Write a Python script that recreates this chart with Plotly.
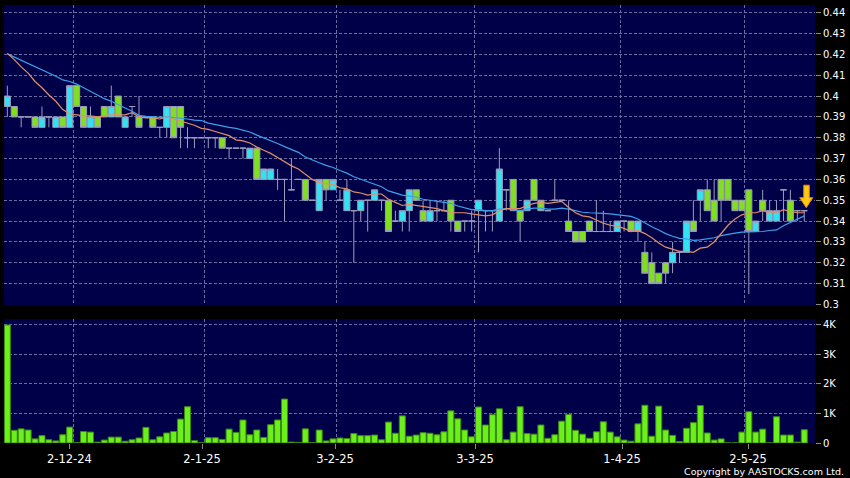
import plotly.graph_objects as go
import pandas as pd

# ---- daily data (one entry per trading session) ----
opens = [0.395, 0.395, 0.39, 0.39, 0.39, 0.385, 0.39, 0.385, 0.39, 0.385,
         0.405, 0.395, 0.385, 0.39, 0.395, 0.39, 0.40, 0.385, 0.395, 0.39,
         0.39, 0.39, 0.385, 0.385, 0.395, 0.395, 0.38, 0.38, 0.38, 0.38,
         0.38, 0.38, 0.375, 0.375, 0.375, 0.37, 0.375, 0.36, 0.36, 0.36,
         0.36, 0.355, 0.36, 0.36, 0.35, 0.345, 0.36, 0.355, 0.35, 0.345,
         0.345, 0.345, 0.35, 0.35, 0.35, 0.35, 0.34, 0.34, 0.345, 0.355,
         0.345, 0.34, 0.345, 0.345, 0.35, 0.34, 0.34, 0.34, 0.345, 0.345,
         0.345, 0.34, 0.355, 0.36, 0.345, 0.345, 0.36, 0.35, 0.345, 0.35,
         0.35, 0.34, 0.335, 0.335, 0.34, 0.335, 0.335, 0.335, 0.335, 0.34,
         0.34, 0.335, 0.325, 0.32, 0.315, 0.32, 0.32, 0.325, 0.325, 0.34,
         0.35, 0.355, 0.35, 0.36, 0.36, 0.35, 0.35, 0.355, 0.335, 0.35,
         0.34, 0.34, 0.355, 0.35, 0.345, 0.345]
highs = [0.405, 0.395, 0.39, 0.39, 0.39, 0.395, 0.39, 0.39, 0.39, 0.405,
         0.405, 0.395, 0.395, 0.39, 0.395, 0.405, 0.40, 0.39, 0.395, 0.40,
         0.39, 0.39, 0.385, 0.395, 0.395, 0.395, 0.385, 0.38, 0.38, 0.38,
         0.38, 0.38, 0.375, 0.375, 0.375, 0.375, 0.375, 0.365, 0.365, 0.365,
         0.36, 0.37, 0.36, 0.36, 0.35, 0.36, 0.36, 0.36, 0.355, 0.36,
         0.345, 0.35, 0.35, 0.355, 0.35, 0.35, 0.345, 0.345, 0.355, 0.355,
         0.35, 0.35, 0.35, 0.35, 0.35, 0.34, 0.34, 0.345, 0.35, 0.345,
         0.345, 0.375, 0.355, 0.36, 0.345, 0.35, 0.36, 0.35, 0.345, 0.36,
         0.35, 0.35, 0.335, 0.335, 0.34, 0.35, 0.345, 0.34, 0.34, 0.34,
         0.34, 0.34, 0.33, 0.325, 0.315, 0.32, 0.33, 0.325, 0.34, 0.35,
         0.355, 0.36, 0.36, 0.36, 0.36, 0.35, 0.35, 0.355, 0.34, 0.355,
         0.35, 0.35, 0.355, 0.355, 0.345, 0.345]
lows = [0.39, 0.39, 0.385, 0.39, 0.385, 0.385, 0.385, 0.385, 0.385, 0.385,
        0.395, 0.385, 0.385, 0.385, 0.39, 0.39, 0.39, 0.385, 0.39, 0.385,
        0.39, 0.385, 0.38, 0.38, 0.38, 0.375, 0.375, 0.375, 0.38, 0.375,
        0.375, 0.375, 0.37, 0.375, 0.37, 0.37, 0.36, 0.36, 0.36, 0.355,
        0.34, 0.355, 0.36, 0.35, 0.35, 0.345, 0.35, 0.355, 0.35, 0.345,
        0.32, 0.34, 0.335, 0.35, 0.345, 0.335, 0.34, 0.335, 0.335, 0.35,
        0.34, 0.34, 0.34, 0.345, 0.335, 0.335, 0.335, 0.335, 0.325, 0.335,
        0.335, 0.34, 0.345, 0.345, 0.33, 0.345, 0.35, 0.345, 0.345, 0.35,
        0.35, 0.335, 0.33, 0.33, 0.335, 0.335, 0.335, 0.335, 0.335, 0.335,
        0.335, 0.33, 0.315, 0.31, 0.31, 0.31, 0.315, 0.32, 0.325, 0.335,
        0.34, 0.345, 0.34, 0.34, 0.35, 0.345, 0.345, 0.305, 0.335, 0.34,
        0.34, 0.34, 0.34, 0.34, 0.34, 0.34]
closes = [0.40, 0.39, 0.39, 0.39, 0.385, 0.39, 0.39, 0.39, 0.385, 0.405,
          0.395, 0.385, 0.39, 0.385, 0.39, 0.395, 0.39, 0.39, 0.395, 0.385,
          0.39, 0.385, 0.385, 0.395, 0.38, 0.385, 0.38, 0.38, 0.38, 0.38,
          0.38, 0.375, 0.375, 0.375, 0.375, 0.375, 0.36, 0.365, 0.365, 0.36,
          0.36, 0.355, 0.36, 0.35, 0.35, 0.36, 0.355, 0.36, 0.35, 0.355,
          0.345, 0.35, 0.35, 0.355, 0.35, 0.335, 0.34, 0.345, 0.355, 0.35,
          0.34, 0.345, 0.345, 0.345, 0.34, 0.335, 0.34, 0.34, 0.35, 0.345,
          0.345, 0.365, 0.355, 0.345, 0.34, 0.35, 0.35, 0.345, 0.345, 0.35,
          0.35, 0.335, 0.33, 0.33, 0.335, 0.335, 0.335, 0.335, 0.34, 0.34,
          0.335, 0.34, 0.315, 0.31, 0.31, 0.315, 0.325, 0.325, 0.34, 0.335,
          0.355, 0.345, 0.34, 0.35, 0.35, 0.345, 0.345, 0.335, 0.34, 0.345,
          0.345, 0.345, 0.355, 0.34, 0.345, 0.345]
volumes = [4000, 430, 480, 440, 140, 250, 110, 70, 280, 540,
           10, 390, 370, 30, 100, 200, 200, 60, 110, 170,
           530, 110, 210, 340, 390, 810, 1230, 80, 10, 180,
           180, 120, 470, 360, 780, 280, 440, 190, 620, 780,
           1490, 30, 20, 480, 10, 440, 70, 140, 170, 150,
           320, 250, 250, 270, 110, 710, 330, 920, 230, 270,
           350, 330, 280, 380, 1090, 820, 440, 210, 1220, 610,
           960, 1160, 110, 370, 1230, 320, 300, 610, 160, 280,
           740, 970, 430, 300, 160, 380, 720, 370, 210, 100,
           60, 650, 1280, 230, 1250, 440, 260, 50, 500, 690,
           1270, 340, 100, 140, 5, 5, 370, 1060, 370, 470,
           5, 890, 270, 270, 30, 450]
# closes of the 19 sessions before the first visible one (estimated; they seed the averages)
prior_closes = [0.42, 0.42, 0.42, 0.42, 0.42, 0.42, 0.42, 0.42, 0.42, 0.42,
                0.42, 0.425, 0.42, 0.425, 0.42, 0.425, 0.42, 0.425, 0.425]

date_labels = ["2-12-24", "2-1-25", "3-2-25", "3-3-25", "1-4-25", "2-5-25"]
date_label_pos = [8.95, 28.1, 47.3, 67.5, 88.7, 106.9]
date_grid_pos = [9.5, 28.4, 47.5, 67.4, 88.5, 106.4]
price_ticks = [0.30, 0.31, 0.32, 0.33, 0.34, 0.35, 0.36, 0.37, 0.38, 0.39,
               0.40, 0.41, 0.42, 0.43, 0.44]
price_tick_text = ["0.3", "0.31", "0.32", "0.33", "0.34", "0.35", "0.36", "0.37",
                   "0.38", "0.39", "0.4", "0.41", "0.42", "0.43", "0.44"]
vol_ticks = [0, 1000, 2000, 3000, 4000]
vol_tick_text = ["0", "1K", "2K", "3K", "4K"]

# ---- derived ----
n = len(closes)
xs = list(range(n))
full = pd.Series(prior_closes + closes)
ma10 = full.rolling(10).mean().iloc[len(prior_closes):].tolist()
ma20 = full.rolling(20).mean().iloc[len(prior_closes):].tolist()

body_idx = [i for i in xs if opens[i] != closes[i]]
doji_idx = [i for i in xs if opens[i] == closes[i]]

CYAN = "#33e2f2"
GREEN = "#80e020"
WICK = "#9c9cbc"
GRID = "#6c6ca4"
NAVY = "#000048"

fig = go.Figure()

fig.add_trace(go.Candlestick(
    x=[xs[i] for i in body_idx],
    open=[opens[i] for i in body_idx], high=[highs[i] for i in body_idx],
    low=[lows[i] for i in body_idx], close=[closes[i] for i in body_idx],
    increasing=dict(fillcolor=CYAN, line=dict(color=WICK, width=1)),
    decreasing=dict(fillcolor=GREEN, line=dict(color=WICK, width=1)),
    whiskerwidth=0, xaxis="x", yaxis="y", hoverinfo="skip"))

fig.add_trace(go.Candlestick(
    x=[xs[i] for i in doji_idx],
    open=[opens[i] for i in doji_idx], high=[highs[i] for i in doji_idx],
    low=[lows[i] for i in doji_idx], close=[closes[i] for i in doji_idx],
    increasing=dict(fillcolor=WICK, line=dict(color=WICK, width=1)),
    decreasing=dict(fillcolor=WICK, line=dict(color=WICK, width=1)),
    whiskerwidth=0, xaxis="x", yaxis="y", hoverinfo="skip"))

fig.add_trace(go.Scatter(x=xs, y=ma20, mode="lines",
                         line=dict(color="#3aa2ea", width=1.2),
                         xaxis="x", yaxis="y", hoverinfo="skip"))
fig.add_trace(go.Scatter(x=xs, y=ma10, mode="lines",
                         line=dict(color="#e0906a", width=1.2),
                         xaxis="x", yaxis="y", hoverinfo="skip"))

fig.add_trace(go.Bar(x=xs, y=volumes,
                     marker=dict(color="#6cf01c", line=dict(color="#3a8a10", width=1)),
                     xaxis="x2", yaxis="y2", hoverinfo="skip"))

grid_minor = dict(tickmode="array", tickvals=date_grid_pos, showgrid=True,
                  gridcolor=GRID, griddash="3px,2px", gridwidth=1, ticks="")

fig.update_layout(
    width=850, height=478,
    margin=dict(l=4, r=35, t=5, b=35),
    paper_bgcolor="black", plot_bgcolor=NAVY,
    showlegend=False,
    boxgap=0.12, boxgroupgap=0,
    bargap=0.13,
    font=dict(family="DejaVu Sans", color="white"),
    xaxis=dict(domain=[0, 1], anchor="y", range=[-0.48, 116.55],
               tickmode="array", tickvals=date_label_pos, showticklabels=False,
               showgrid=False, zeroline=False, ticks="",
               rangeslider=dict(visible=False), minor=grid_minor),
    xaxis2=dict(domain=[0, 1], anchor="y2", matches="x", range=[-0.48, 116.55],
                tickmode="array", tickvals=date_label_pos, ticktext=date_labels,
                showgrid=False, zeroline=False, ticks="outside", ticklen=5,
                tickcolor="#8a8a8a", tickfont=dict(size=11.5, color="white"),
                minor=grid_minor),
    yaxis=dict(domain=[0.3144, 1], anchor="x", side="right",
               range=[0.2996, 0.4437], tickmode="array",
               tickvals=price_ticks, ticktext=price_tick_text,
               showgrid=True, gridcolor=GRID, griddash="3px,2px", gridwidth=1,
               zeroline=False, ticks="outside", ticklen=5, tickcolor="#8a8a8a",
               tickfont=dict(size=10, color="white")),
    yaxis2=dict(domain=[0, 0.2831], anchor="x2", side="right",
                range=[0, 4203], tickmode="array",
                tickvals=vol_ticks, ticktext=vol_tick_text,
                showgrid=True, gridcolor=GRID, griddash="3px,2px", gridwidth=1,
                zeroline=False, ticks="outside", ticklen=5, tickcolor="#8a8a8a",
                tickfont=dict(size=10, color="white")),
    shapes=[dict(type="path", xref="x", yref="y",
                 xsizemode="pixel", ysizemode="pixel",
                 xanchor=xs[-1], yanchor=closes[-1],
                 path="M 2,3 L 8.5,13 L 5,13 L 5,25.5 L -0.5,25.5 L -0.5,13 L -4.5,13 Z",
                 fillcolor="#ffc814", line=dict(color="#e08a00", width=1))],
    annotations=[dict(text="Copyright by AASTOCKS.com Ltd.", xref="paper", yref="paper",
                      x=1.038, y=-0.0655, xanchor="right", yanchor="middle",
                      showarrow=False, font=dict(size=9.5, color="white"))],
)

fig.write_html("out.html",
               config={"displayModeBar": False},
               post_script="document.body.style.margin='0';document.body.style.background='black';")
